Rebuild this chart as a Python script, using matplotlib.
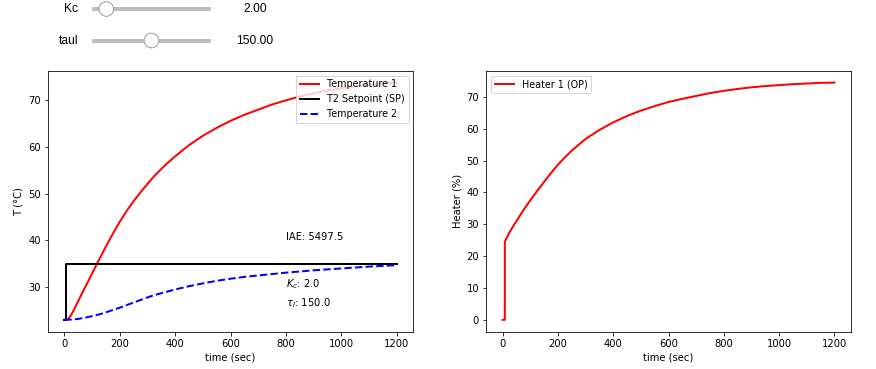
import numpy as np
import matplotlib.pyplot as plt
from matplotlib.patches import Circle

# 数据
t_T1 = [0, 10, 20, 30, 40, 50, 60, 75, 90, 100, 117, 125, 150, 175, 200, 225,
        250, 275, 300, 325, 350, 375, 400, 425, 450, 475, 500, 550, 600, 650,
        700, 750, 800, 850, 900, 950, 1000, 1050, 1100, 1150, 1200]
T1 = [23.0, 23.0, 23.6, 24.6, 25.8, 27.0, 28.2, 30.0, 31.7, 32.9, 34.9, 35.8,
      38.7, 41.4, 44.0, 46.3, 48.4, 50.3, 52.1, 53.8, 55.3, 56.7, 58.0, 59.2,
      60.4, 61.4, 62.4, 64.1, 65.6, 66.9, 68.0, 69.1, 70.0, 70.8, 71.5, 72.1,
      72.6, 73.0, 73.3, 73.6, 73.8]

t_SP = [0, 6, 6, 1200]
SP = [23.0, 23.0, 35.0, 35.0]

t_T2 = [0, 25, 50, 75, 100, 125, 150, 175, 200, 225, 250, 275, 300, 325, 350,
        375, 400, 425, 450, 475, 500, 550, 600, 650, 700, 750, 800, 850, 900,
        950, 1000, 1050, 1100, 1150, 1200]
T2 = [23.0, 23.05, 23.2, 23.45, 23.8, 24.15, 24.6, 25.1, 25.6, 26.15, 26.7,
      27.25, 27.8, 28.3, 28.7, 29.1, 29.5, 29.85, 30.2, 30.5, 30.8, 31.35, 31.8,
      32.2, 32.5, 32.8, 33.1, 33.35, 33.6, 33.8, 34.0, 34.2, 34.4, 34.55, 34.7]

t_OP = [0, 8, 8, 25, 50, 75, 100, 125, 150, 175, 200, 225, 250, 275, 300, 350,
        400, 450, 500, 550, 600, 650, 700, 750, 800, 850, 900, 950, 1000, 1050,
        1100, 1150, 1200]
OP = [0.0, 0.0, 24.5, 27.5, 31.0, 34.4, 37.5, 40.5, 43.3, 46.1, 48.7, 51.0,
      53.1, 55.0, 56.8, 59.6, 62.0, 64.0, 65.7, 67.1, 68.4, 69.4, 70.3, 71.2,
      71.9, 72.5, 73.0, 73.4, 73.7, 74.0, 74.2, 74.4, 74.5]

Kc = 2.0
tauI = 150.0
IAE = 5497.5

# 滑块: 名称, 数值, 手柄位置(0-1)
slider_names = ['Kc', 'taul']
slider_values = [Kc, tauI]
slider_pos = [0.12, 0.50]

W, H = 876, 369
fig = plt.figure(figsize=(W / 72, H / 72), dpi=72)

# 顶部滑块（像素坐标）
ov = fig.add_axes([0, 0, 1, 1])
ov.set_xlim(0, W)
ov.set_ylim(H, 0)
ov.axis('off')
x0, x1 = 92, 211
for i in range(len(slider_names)):
    y = 9 + 31.5 * i
    ov.text(78, y, slider_names[i], ha='right', va='center', fontsize=12,
            family='Liberation Sans')
    ov.plot([x0, x1], [y, y], color='#bdbdbd', lw=4, solid_capstyle='butt')
    hx = x0 + slider_pos[i] * (x1 - x0)
    ov.add_patch(Circle((hx, y), 7.3, facecolor='white', edgecolor='#9e9e9e',
                        lw=1, zorder=3))
    ov.text(255, y, '%.2f' % slider_values[i], ha='center', va='center',
            fontsize=12, family='Liberation Sans')

# 温度
ax1 = fig.add_axes([47.7 / W, 1 - 331.7 / H, 365.6 / W, 261 / H])
ax1.plot(t_T1, T1, 'r-', lw=2, label='Temperature 1')
ax1.plot(t_SP, SP, 'k-', lw=2, label='T2 Setpoint (SP)')
ax1.plot(t_T2, T2, 'b--', lw=2, label='Temperature 2')
ax1.set_ylabel('T (°C)')
ax1.set_xlabel('time (sec)')
ax1.text(800, 40, 'IAE: ' + str(IAE))
ax1.text(800, 30, '$K_c$: ' + str(Kc))
ax1.text(800, 26, r'$\tau_I$: ' + str(tauI))
ax1.legend(loc='upper right', fontsize=9.6)

# 加热器
ax2 = fig.add_axes([486 / W, 1 - 331.7 / H, 365 / W, 261 / H])
ax2.plot(t_OP, OP, 'r-', lw=2, label='Heater 1 (OP)')
ax2.set_ylabel('Heater (%)')
ax2.set_xlabel('time (sec)')
ax2.legend(loc='upper left', fontsize=9.6)

fig.savefig('out.png', dpi=72)
